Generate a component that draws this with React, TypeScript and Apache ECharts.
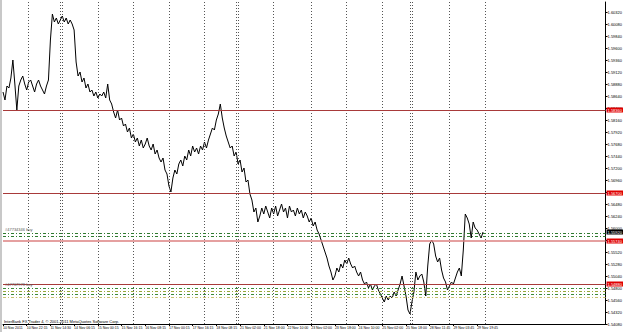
import React, { useEffect, useRef } from "react";
import * as echarts from "echarts";

// Bottom time-axis labels (one every 12 bars of 80 min)
const tickLabels = [
  "10 Nov 2011", "10 Nov 22:15", "11 Nov 14:30", "14 Nov 06:15", "15 Nov 00:15",
  "15 Nov 16:15", "16 Nov 08:15", "17 Nov 00:15", "17 Nov 16:15", "18 Nov 08:15",
  "21 Nov 02:00", "21 Nov 18:00", "22 Nov 10:00", "23 Nov 02:00", "23 Nov 18:00",
  "24 Nov 10:00", "25 Nov 02:00", "25 Nov 18:00", "28 Nov 11:45", "29 Nov 03:45",
  "29 Nov 19:45",
];

// Close prices
const closes = [
  1.5872, 1.5856, 1.5884, 1.5880, 1.5900, 1.5936, 1.5888, 1.5836, 1.5884, 1.5896,
  1.5904, 1.5888, 1.5876, 1.5892, 1.5896, 1.5884, 1.5872, 1.5888, 1.5896, 1.5884,
  1.5876, 1.5868, 1.5884, 1.5896, 1.5976, 1.6028, 1.6012, 1.6020, 1.6008, 1.6016,
  1.6024, 1.6012, 1.6020, 1.6008, 1.6016, 1.6008, 1.5996, 1.5932, 1.5904, 1.5912,
  1.5892, 1.5900, 1.5880, 1.5888, 1.5872, 1.5876, 1.5864, 1.5872, 1.5860, 1.5868,
  1.5864, 1.5872, 1.5860, 1.5888, 1.5856, 1.5848, 1.5832, 1.5820, 1.5836, 1.5816,
  1.5820, 1.5804, 1.5808, 1.5792, 1.5800, 1.5780, 1.5788, 1.5772, 1.5780, 1.5764,
  1.5776, 1.5760, 1.5768, 1.5780, 1.5764, 1.5756, 1.5768, 1.5748, 1.5756, 1.5740,
  1.5732, 1.5740, 1.5716, 1.5708, 1.5684, 1.5672, 1.5700, 1.5716, 1.5708, 1.5728,
  1.5736, 1.5724, 1.5744, 1.5736, 1.5756, 1.5744, 1.5764, 1.5752, 1.5760, 1.5748,
  1.5764, 1.5756, 1.5772, 1.5760, 1.5776, 1.5788, 1.5800, 1.5796, 1.5816, 1.5828,
  1.5848, 1.5820, 1.5800, 1.5784, 1.5772, 1.5760, 1.5764, 1.5744, 1.5752, 1.5728,
  1.5736, 1.5712, 1.5720, 1.5692, 1.5696, 1.5668, 1.5656, 1.5632, 1.5640, 1.5612,
  1.5624, 1.5640, 1.5628, 1.5644, 1.5632, 1.5620, 1.5640, 1.5628, 1.5644, 1.5624,
  1.5636, 1.5648, 1.5632, 1.5640, 1.5620, 1.5644, 1.5632, 1.5636, 1.5624, 1.5640,
  1.5628, 1.5636, 1.5620, 1.5632, 1.5624, 1.5612, 1.5620, 1.5604, 1.5612, 1.5596,
  1.5588, 1.5576, 1.5564, 1.5552, 1.5540, 1.5524, 1.5512, 1.5496, 1.5504, 1.5520,
  1.5512, 1.5528, 1.5520, 1.5536, 1.5528, 1.5540, 1.5528, 1.5520, 1.5524, 1.5512,
  1.5504, 1.5512, 1.5496, 1.5488, 1.5492, 1.5480, 1.5488, 1.5476, 1.5484, 1.5488,
  1.5476, 1.5468, 1.5460, 1.5452, 1.5464, 1.5456, 1.5464, 1.5460, 1.5472, 1.5464,
  1.5476, 1.5488, 1.5504, 1.5484, 1.5464, 1.5436, 1.5428, 1.5452, 1.5472, 1.5512,
  1.5496, 1.5504, 1.5508, 1.5492, 1.5464, 1.5524, 1.5568, 1.5576, 1.5568, 1.5544,
  1.5532, 1.5540, 1.5516, 1.5500, 1.5492, 1.5476, 1.5484, 1.5492, 1.5488, 1.5500,
  1.5512, 1.5520, 1.5504, 1.5556, 1.5628, 1.5620, 1.5608, 1.5580, 1.5612, 1.5600,
  1.5596, 1.5588, 1.5580, 1.5592,
];

// Bar indices where a new trading day starts
const daySeparators = [13, 29, 30, 48, 66, 84, 102, 118, 119, 137, 156, 174, 192, 206, 207, 226, 244];

// Horizontal price levels
const redLevels = [1.5836, 1.5670, 1.5488];
const pendingLevels = [1.5574];
const upperOrderLevels = [1.5590, 1.5584];
const lowerOrderLevels = [1.5480, 1.5474, 1.5468, 1.5462];
const orderTickets = ["#47734346 buy", "#47767978 buy"];

const TOTAL_BARS = 306;
const yMin = 1.5408;
const yMax = 1.6052;
const yStep = 0.0024;

export default function App() {
  const ref = useRef<HTMLDivElement>(null);

  useEffect(() => {
    const chart = echarts.init(ref.current!, null, { renderer: "svg" });
    const font = "Liberation Sans";
    const categories = Array.from({ length: TOTAL_BARS }, (_, i) => String(i));
    const bid = closes[closes.length - 1];

    const boxLabel = (bg: string) => ({
      show: true,
      position: "end",
      distance: 1,
      formatter: (p: any) => Number(p.value).toFixed(5),
      backgroundColor: bg,
      color: "#fff",
      fontSize: 4,
      fontFamily: font,
      padding: [1, 1, 0, 1],
    });

    const ticketLabel = (text: string) => ({
      show: true,
      position: "insideStartTop",
      distance: 2,
      formatter: text,
      color: "#555",
      fontSize: 4,
      fontFamily: font,
    });

    const markData: any[] = [
      ...daySeparators.map((i) => ({
        xAxis: i,
        lineStyle: { color: "#555", type: [1, 2], width: 1 },
        label: { show: false },
      })),
      ...redLevels.map((v) => ({
        yAxis: v,
        lineStyle: { color: "#a83a3a", type: "solid", width: 1 },
        label: boxLabel("#e00000"),
      })),
      ...pendingLevels.map((v) => ({
        yAxis: v,
        lineStyle: { color: "#dd8080", type: "solid", width: 1.5 },
        label: boxLabel("#e00000"),
      })),
      ...upperOrderLevels.map((v, k) => ({
        yAxis: v,
        lineStyle: { color: "#2f7a2f", type: [3, 2, 1, 2], width: 1 },
        label: k === 0 ? ticketLabel(orderTickets[0]) : { show: false },
      })),
      ...lowerOrderLevels.map((v, k) => ({
        yAxis: v,
        lineStyle: { color: ["#3a8a3a", "#9aa83a", "#3a8a3a", "#c8c070"][k], type: [3, 2, 1, 2], width: 1 },
        label: k === 0 ? ticketLabel(orderTickets[1]) : { show: false },
      })),
      {
        yAxis: bid,
        lineStyle: { color: "rgba(0,0,0,0)", width: 1 },
        label: boxLabel("#000"),
      },
    ];

    const showTick = (i: number) => i % 12 === 0 && i / 12 < tickLabels.length;

    chart.setOption({
      animation: false,
      backgroundColor: "#ffffff",
      grid: { left: 2, right: 13, top: 2, bottom: 8 },
      xAxis: {
        type: "category",
        data: categories,
        boundaryGap: false,
        axisLine: { show: true, lineStyle: { color: "#000", width: 1 } },
        axisTick: { show: true, length: 2, interval: showTick, lineStyle: { color: "#000" } },
        axisLabel: {
          interval: showTick,
          formatter: (_v: string, i: number) => tickLabels[i / 12] ?? "",
          align: "left",
          fontSize: 3.5,
          fontFamily: font,
          color: "#000",
          margin: 2,
        },
        splitLine: { show: false },
      },
      yAxis: {
        type: "value",
        position: "right",
        min: yMin,
        max: yMax,
        interval: yStep,
        axisLine: { show: true, lineStyle: { color: "#000", width: 1 } },
        axisTick: { show: true, length: 2, lineStyle: { color: "#000" } },
        axisLabel: {
          fontSize: 4,
          fontFamily: font,
          color: "#000",
          margin: 2,
          showMaxLabel: false,
          formatter: (v: number) => v.toFixed(5),
        },
        splitLine: { show: false },
      },
      series: [
        {
          type: "line",
          data: closes,
          symbol: "none",
          showSymbol: false,
          lineStyle: { color: "#000", width: 1 },
          markLine: {
            silent: true,
            precision: 5,
            symbol: ["none", "none"],
            data: markData,
          },
        },
      ],
      graphic: [
        { type: "rect", left: 0, top: 0, shape: { width: 2, height: 332 }, style: { fill: "#c8c8c8" } },
        {
          type: "text",
          left: 4,
          top: 319,
          style: {
            text: "InterBank FX Trader 4, \u00a9 2001-2011 MetaQuotes Software Corp.",
            fontSize: 4,
            fontFamily: font,
            fill: "#000",
          },
        },
      ],
    });

    return () => chart.dispose();
  }, []);

  return (
    <div
      ref={ref}
      style={{ position: "fixed", left: 0, top: 0, width: 625, height: 332, background: "#fff" }}
    />
  );
}
